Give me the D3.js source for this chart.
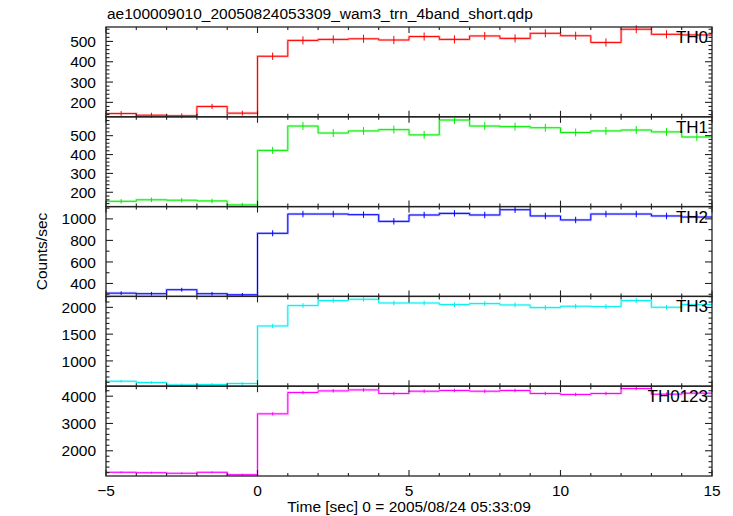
<!DOCTYPE html>
<html><head><meta charset="utf-8">
<script src="https://cdn.jsdelivr.net/npm/d3@7"></script>
<style>body{margin:0;background:#fff}svg{display:block}text{font-family:"Liberation Sans",Arial,sans-serif;fill:#000}</style>
</head><body><svg id="c" width="733" height="516"></svg>
<script>
const binStarts = [-5,-4,-3,-2,-1,0,1,2,3,4,5,6,7,8,9,10,11,12,13,14];
const th0 = [145,137,134,180,147,427,505,510,513,507,524,510,527,515,540,528,495,560,535,532];
const th0Err = [12,12,12,13,12,18,20,20,20,20,20,20,20,20,20,20,20,20,20,20];
const th1 = [152,160,158,154,133,422,551,514,525,532,504,583,551,548,542,517,525,530,520,493];
const th1Err = [12,12,12,12,11,19,21,21,21,21,21,21,21,21,21,21,21,21,21,21];
const th2 = [310,305,342,305,295,866,1045,1045,1039,977,1036,1051,1036,1085,1027,990,1045,1045,1027,1017];
const th2Err = [17,17,18,17,17,28,30,30,30,30,30,30,30,30,30,30,30,30,30,30];
const th3 = [621,597,552,560,578,1653,2034,2127,2151,2082,2082,2052,2071,2045,1996,2021,2015,2127,2002,2052];
const th3Err = [25,25,24,24,25,40,45,45,45,45,45,45,45,45,45,45,45,45,45,45];
const th0123 = [1210,1196,1174,1210,1123,3353,4135,4194,4230,4099,4183,4208,4183,4208,4099,4062,4099,4281,4073,4110];
const th0123Err = [35,35,35,35,34,58,64,64,64,64,64,64,64,64,64,64,64,64,64,64];
const panelNames = ["TH0","TH1","TH2","TH3","TH0123"];
const xTickLabels = ["\u22125","0","5","10","15"];
const titleText = "ae100009010_20050824053309_wam3_trn_4band_short.qdp";
const xTitle = "Time [sec] 0 = 2005/08/24 05:33:09";
const yTitle = "Counts/sec";

const panels = [
  {name:panelNames[0], vals:th0, err:th0Err, color:"#ff0000", dom:[129,571], major:[200,300,400,500], minorStep:20},
  {name:panelNames[1], vals:th1, err:th1Err, color:"#00ee00", dom:[124,600], major:[200,300,400,500], minorStep:20},
  {name:panelNames[2], vals:th2, err:th2Err, color:"#0000ff", dom:[280,1114], major:[400,600,800,1000], minorStep:100},
  {name:panelNames[3], vals:th3, err:th3Err, color:"#00f0f0", dom:[528,2205], major:[1000,1500,2000], minorStep:100},
  {name:panelNames[4], vals:th0123, err:th0123Err, color:"#ff00ff", dom:[1075,4366], major:[2000,3000,4000], minorStep:200}
];

const svg = d3.select("#c");
const L=106, R=712, T=27, H=89.8;
const x = d3.scaleLinear().domain([-5,15]).range([L,R]);
const axisColor="#222";

svg.append("text").attr("x",L+1).attr("y",19).attr("font-size",15.5).text(titleText);

panels.forEach((p,i)=>{
  const top = T + i*H, bot = top + H;
  const y = d3.scaleLinear().domain(p.dom).range([bot,top]);
  const g = svg.append("g");
  const pts = [];
  binStarts.forEach((b,j)=>{pts.push([b,p.vals[j]]);pts.push([b+1,p.vals[j]]);});
  const line = d3.line().x(d=>x(d[0])).y(d=>y(d[1]));
  g.append("path").attr("d",line(pts)).attr("fill","none").attr("stroke",p.color).attr("stroke-opacity",0.25).attr("stroke-width",2.6);
  g.append("path").attr("d",line(pts)).attr("fill","none").attr("stroke",p.color).attr("stroke-width",1);
  binStarts.forEach((b,j)=>{
    g.append("line").attr("x1",x(b+0.5)).attr("x2",x(b+0.5))
      .attr("y1",y(p.vals[j]-p.err[j])).attr("y2",y(p.vals[j]+p.err[j]))
      .attr("stroke",p.color).attr("stroke-width",1);
  });
  g.append("rect").attr("x",L).attr("y",top).attr("width",R-L).attr("height",bot-top)
    .attr("fill","none").attr("stroke",axisColor).attr("stroke-width",1.3);
  d3.range(-5,16,1).forEach(t=>{
    const len = (t%5===0)?6:3;
    g.append("line").attr("x1",x(t)).attr("x2",x(t)).attr("y1",top).attr("y2",top+len).attr("stroke",axisColor).attr("stroke-width",1.1);
    g.append("line").attr("x1",x(t)).attr("x2",x(t)).attr("y1",bot).attr("y2",bot-len).attr("stroke",axisColor).attr("stroke-width",1.1);
  });
  const minor = d3.range(Math.ceil(p.dom[0]/p.minorStep)*p.minorStep, p.dom[1], p.minorStep);
  minor.forEach(v=>{
    const isMaj = p.major.includes(v) || (v % (p.major[1]-p.major[0]) === 0);
    const len = isMaj?7:3.5;
    g.append("line").attr("x1",L).attr("x2",L+len).attr("y1",y(v)).attr("y2",y(v)).attr("stroke",axisColor).attr("stroke-width",1.1);
    g.append("line").attr("x1",R).attr("x2",R-len).attr("y1",y(v)).attr("y2",y(v)).attr("stroke",axisColor).attr("stroke-width",1.1);
  });
  p.major.forEach(v=>{
    g.append("text").attr("x",L-10).attr("y",y(v)).attr("dy","0.36em").attr("text-anchor","end").attr("font-size",15.5).text(v);
  });
  g.append("text").attr("x",R-4).attr("y",top+16).attr("text-anchor","end").attr("font-size",17).text(p.name);
});

const bottom = T + 5*H;
[-5,0,5,10,15].forEach((t,k)=>{
  svg.append("text").attr("x",x(t)).attr("y",bottom+20).attr("text-anchor","middle").attr("font-size",15.5).text(xTickLabels[k]);
});
svg.append("text").attr("x",(L+R)/2).attr("y",bottom+36).attr("text-anchor","middle").attr("font-size",15.5).text(xTitle);
svg.append("text").attr("transform",`translate(47,${T+2.5*H}) rotate(-90)`).attr("text-anchor","middle").attr("font-size",15.5).text(yTitle);
</script></body></html>
